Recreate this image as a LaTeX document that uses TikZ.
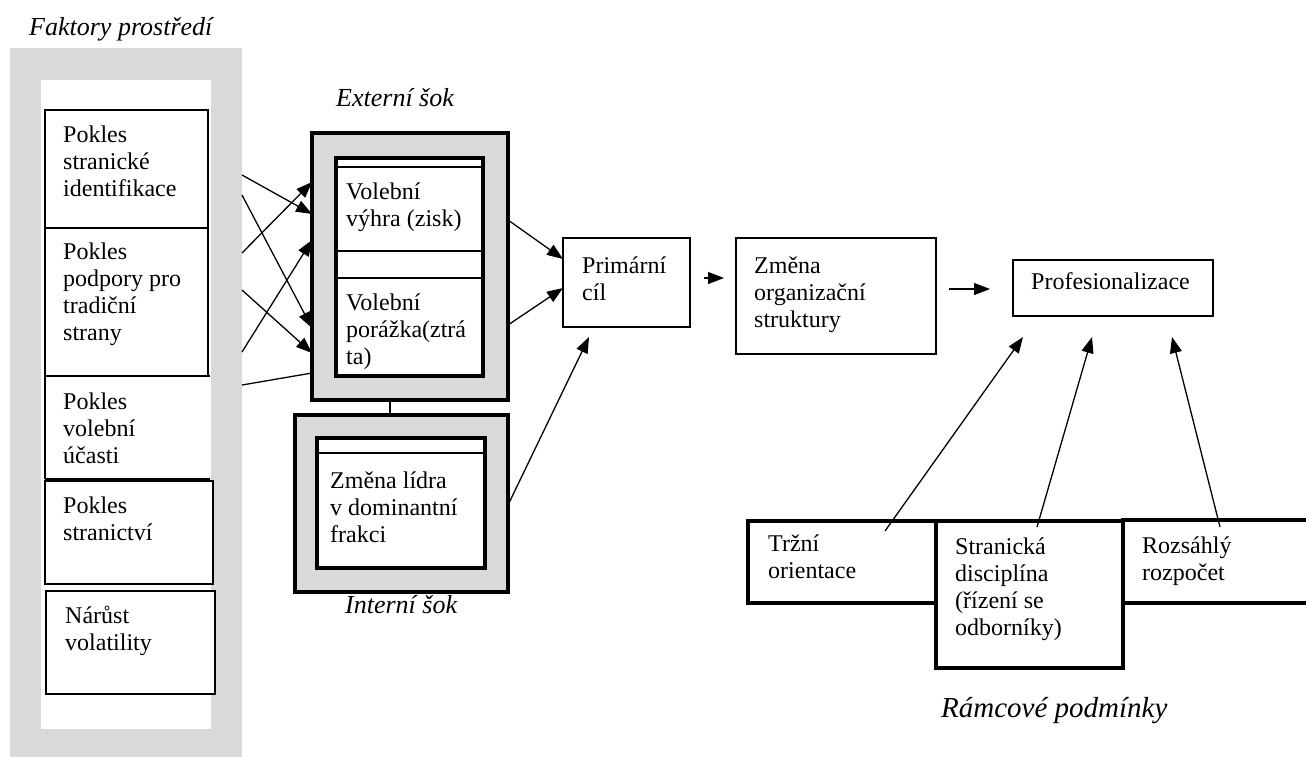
\documentclass[tikz,border=0pt]{standalone}
\usepackage{fontspec}
\setmainfont{Liberation Serif}
\usetikzlibrary{arrows.meta}
\definecolor{shade}{RGB}{217,217,217}
\newcommand{\fs}{\fontsize{24}{27}\selectfont}
\newcommand{\fl}{\fontsize{26}{30}\selectfont\itshape}
\newcommand{\flb}{\fontsize{29}{33}\selectfont\itshape}
\newcommand{\sr}{\rule{0pt}{20pt}}
\begin{document}
\begin{tikzpicture}[x=1pt,y=-1pt,
  rect/.style={inner sep=0pt, outer sep=0pt, anchor=north west},
  thinbox/.style={rect, draw, line width=1.3pt, fill=white},
  thickbox/.style={rect, draw, line width=3.2pt},
  txt/.style={inner sep=0pt, anchor=north west, align=left, font=\fs},
  lbl/.style={inner sep=0pt, anchor=base west, font=\fl},
  ln/.style={line width=1.3pt},
  ar/.style={line width=1.3pt, -{Triangle[length=16pt,width=12pt]}}
]
\useasboundingbox (0,0) rectangle (1306,756);

% left column
\node[lbl] (faktory) at (29,35) {Faktory prostředí};
\node[rect, fill=shade, minimum width=232pt, minimum height=710pt] (grey) at (10,48) {};
\node[rect, fill=white, minimum width=170pt, minimum height=649pt] (white) at (41,80) {};
\node[thinbox, minimum width=163pt, minimum height=118pt] (b1) at (45,110) {};
\node[thinbox, minimum width=163pt, minimum height=148pt] (b2) at (45,228) {};
\node[rect, minimum width=165pt, minimum height=103pt] (b3) at (45,376) {};
\draw[ln] (b3.north east) -- (b3.north west) -- (b3.south west);
\draw[line width=2pt] (b3.south west) -- (b3.south east);
\node[thinbox, minimum width=168pt, minimum height=103pt] (b4) at (45,481) {};
\node[thinbox, minimum width=169pt, minimum height=103pt] (b5) at (46,591) {};
\node[txt] (t1) at (63,122) {\sr Pokles\\stranické\\identifikace};
\node[txt] (t2) at (63,239) {\sr Pokles\\podpory pro\\tradiční\\strany};
\node[txt] (t3) at (63,389) {\sr Pokles\\volební\\účasti};
\node[txt] (t4) at (63,493) {\sr Pokles\\stranictví};
\node[txt] (t5) at (65,603) {\sr Nárůst\\volatility};

% external shock
\node[lbl] (extl) at (336,106) {Externí šok};
\node[thickbox, fill=shade, minimum width=196pt, minimum height=267pt] (ext) at (312,133) {};
\node[thickbox, fill=white, minimum width=147pt, minimum height=218pt] (exti) at (336,158) {};
\draw[ln] ([yshift=-9pt]exti.north west) -- ([yshift=-9pt]exti.north east);
\draw[ln] ([yshift=-93pt]exti.north west) -- ([yshift=-93pt]exti.north east);
\draw[ln] ([yshift=-120pt]exti.north west) -- ([yshift=-120pt]exti.north east);
\node[txt] (tv1) at (346,179) {\sr Volební\\výhra (zisk)};
\node[txt] (tv2) at (346,290) {\sr Volební\\porážka(ztrá\\ta)};

% internal shock
\node[thickbox, fill=shade, minimum width=213pt, minimum height=177pt] (int) at (295,415) {};
\node[thickbox, fill=white, minimum width=168pt, minimum height=130pt] (inti) at (317,438) {};
\draw[ln] ([yshift=-15pt]inti.north west) -- ([yshift=-15pt]inti.north east);
\node[txt] (tl) at (330,468) {\sr Změna lídra\\v dominantní\\frakci};
\node[lbl] (intl) at (345,613) {Interní šok};
\draw[ln] ([xshift=-20pt]ext.south) -- ([xshift=-20pt]ext.south |- int.north);

% cross arrows
\coordinate (s1) at (242,175);
\coordinate (s2) at (242,195);
\coordinate (s3) at (242,253);
\coordinate (s4) at (242,290);
\coordinate (s5) at (242,352);
\coordinate (s6) at (242,385);
\draw[ar] (s1) -- ([yshift=-81pt]ext.north west);
\draw[ar] (s2) -- ([yshift=-195pt]ext.north west);
\draw[ar] (s3) -- ([yshift=-49pt]ext.north west);
\draw[ar] (s4) -- ([yshift=-220pt]ext.north west);
\draw[ar] (s5) -- ([yshift=-107pt]ext.north west);
\draw[ln] (s6) -- ([yshift=-240pt]ext.north west);

% main chain
\node[thinbox, minimum width=127pt, minimum height=89pt] (prim) at (563,238) {};
\node[txt] (tp) at (582,253) {\sr Primární\\cíl};
\node[thinbox, minimum width=200pt, minimum height=116pt] (zm) at (736,238) {};
\node[txt] (tz) at (754,253) {\sr Změna\\organizační\\struktury};
\node[thinbox, minimum width=200pt, minimum height=56pt] (prof) at (1013,260) {};
\node[txt] (tpr) at (1031,269) {\sr Profesionalizace};

\draw[ar] ([yshift=-87pt]ext.north east) -- ([yshift=-21pt]prim.north west);
\draw[ar] ([yshift=-192pt]ext.north east) -- ([yshift=-50pt]prim.north west);
\draw[ar] ([yshift=-90pt]int.north east) -- ([xshift=26pt,yshift=-10pt]prim.south west);
\draw[ar] ([xshift=14pt,yshift=-40pt]prim.north east) -- ([xshift=-12pt,yshift=-40pt]zm.north west);
\draw[ar] ([xshift=13pt,yshift=-51pt]zm.north east) -- ([xshift=-23pt,yshift=-29pt]prof.north west);

% framework conditions
\node[thickbox, fill=white, minimum width=188pt, minimum height=82pt] (tr) at (748,521) {};
\node[thickbox, fill=white, minimum width=187pt, minimum height=147pt] (st) at (936,521) {};
\node[thickbox, fill=white, minimum width=190pt, minimum height=83pt] (rz) at (1123,520) {};
\node[txt] (ttr) at (768,531) {\sr Tržní\\orientace};
\node[txt] (tst) at (955,534) {\sr Stranická\\disciplína\\(řízení se\\odborníky)};
\node[txt] (trz) at (1142,533) {\sr Rozsáhlý\\rozpočet};
\node[lbl, font=\flb] (raml) at (941,717) {Rámcové podmínky};

\draw[ar] ([xshift=137pt,yshift=-10pt]tr.north west) -- ([xshift=10pt,yshift=-21pt]prof.south west);
\draw[ar] ([xshift=101pt,yshift=-6pt]st.north west) -- ([xshift=79pt,yshift=-21pt]prof.south west);
\draw[ar] ([xshift=97pt,yshift=-7pt]rz.north west) -- ([xshift=159pt,yshift=-21pt]prof.south west);
\end{tikzpicture}
\end{document}
